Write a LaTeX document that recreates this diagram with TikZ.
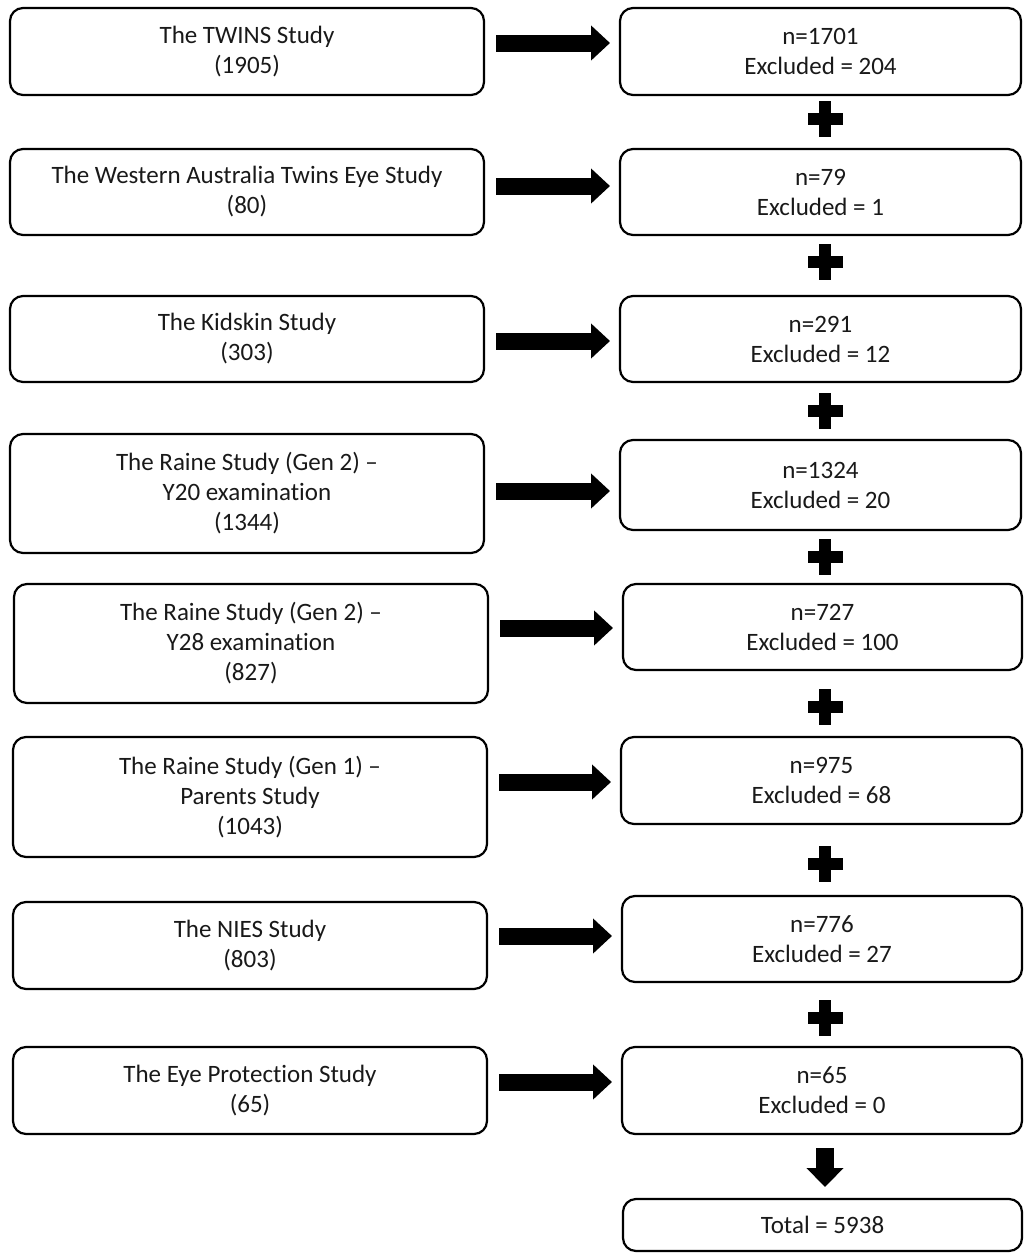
\documentclass[tikz,border=0pt]{standalone}
\usepackage{fontspec}
\setmainfont[Ligatures=NoCommon]{Carlito}
\usetikzlibrary{arrows.meta,calc}
\begin{document}
\begin{tikzpicture}[x=1pt,y=-1pt,
  box/.style={draw=black, line width=2.2pt, rounded corners=13pt, inner sep=0pt, outer sep=0pt,
    align=center, font=\fontsize{25}{30}\selectfont, text=black!90},
  lbox/.style={box, minimum width=474pt},
  rbox/.style={box, minimum width=401pt},
  bigarr/.style={line width=17pt, shorten <=12pt, shorten >=10pt, -{Triangle[width=34pt,length=19pt]}},
  downarr/.style={line width=18pt, shorten <=14pt, shorten >=12pt, -{Triangle[width=36pt,length=19pt]}},
  plussign/.pic={\fill (-17.5,-6) rectangle (17.5,6); \fill (-6,-18) rectangle (6,18);}
]
\useasboundingbox (0,0) rectangle (1024,1253);

% left column
\node[lbox, minimum height=87pt]  (L1) at (247,51.5)  {The TWINS Study\\(1905)};
\node[lbox, minimum height=86pt]  (L2) at (247,192)   {The Western Australia Twins Eye Study\\(80)};
\node[lbox, minimum height=86pt]  (L3) at (247,339)   {The Kidskin Study\\(303)};
\node[lbox, minimum height=119pt] (L4) at (247,493.5) {The Raine Study (Gen 2) –\\Y20 examination\\(1344)};
\node[lbox, minimum height=119pt] (L5) at (251,643.5) {The Raine Study (Gen 2) –\\Y28 examination\\(827)};
\node[lbox, minimum height=120pt] (L6) at (250,797)   {The Raine Study (Gen 1) –\\Parents Study\\(1043)};
\node[lbox, minimum height=87pt]  (L7) at (250,945.5) {The NIES Study\\(803)};
\node[lbox, minimum height=87pt]  (L8) at (250,1090.5){The Eye Protection Study\\(65)};

% right column
\node[rbox, minimum height=87pt] (R1) at (820.5,51.5)  {n=1701\\Excluded = 204};
\node[rbox, minimum height=86pt] (R2) at (820.5,192)   {n=79\\Excluded = 1};
\node[rbox, minimum height=86pt] (R3) at (820.5,339)   {n=291\\Excluded = 12};
\node[rbox, minimum height=90pt] (R4) at (820.5,485)   {n=1324\\Excluded = 20};
\node[rbox, minimum height=86pt, minimum width=399pt] (R5) at (822.5,627) {n=727\\Excluded = 100};
\node[rbox, minimum height=87pt] (R6) at (821.5,780.5) {n=975\\Excluded = 68};
\node[rbox, minimum height=86pt, minimum width=400pt] (R7) at (822,939)   {n=776\\Excluded = 27};
\node[rbox, minimum height=87pt, minimum width=400pt] (R8) at (822,1090.5){n=65\\Excluded = 0};
\node[rbox, minimum height=52pt, minimum width=399pt] (T)  at (822.5,1225) {Total = 5938};

% arrow levels
\coordinate (a1) at (0,43);
\coordinate (a2) at (0,186);
\coordinate (a3) at (0,341);
\coordinate (a4) at (0,491);
\coordinate (a5) at (0,628);
\coordinate (a6) at (0,782);
\coordinate (a7) at (0,936);
\coordinate (a8) at (0,1082);
\coordinate (d) at (825,0);

\draw[bigarr] (L1.east |- a1) -- (R1.west |- a1);
\draw[bigarr] (L2.east |- a2) -- (R2.west |- a2);
\draw[bigarr] (L3.east |- a3) -- (R3.west |- a3);
\draw[bigarr] (L4.east |- a4) -- (R4.west |- a4);
\draw[bigarr] (L5.east |- a5) -- (R5.west |- a5);
\draw[bigarr] (L6.east |- a6) -- (R6.west |- a6);
\draw[bigarr] (L7.east |- a7) -- (R7.west |- a7);
\draw[bigarr] (L8.east |- a8) -- (R8.west |- a8);

% plus signs
\pic at ($(R1.south -| d)!0.45!(R2.north -| d)$) {plussign};
\pic at ($(R2.south -| d)!0.45!(R3.north -| d)$) {plussign};
\pic at ($(R3.south -| d)!0.5!(R4.north -| d)$) {plussign};
\pic at ($(R4.south -| d)!0.5!(R5.north -| d)$) {plussign};
\pic at ($(R5.south -| d)!0.55!(R6.north -| d)$) {plussign};
\pic at ($(R6.south -| d)!0.55!(R7.north -| d)$) {plussign};
\pic at ($(R7.south -| d)!0.55!(R8.north -| d)$) {plussign};

\draw[downarr] (R8.south -| d) -- (T.north -| d);
\end{tikzpicture}
\end{document}
